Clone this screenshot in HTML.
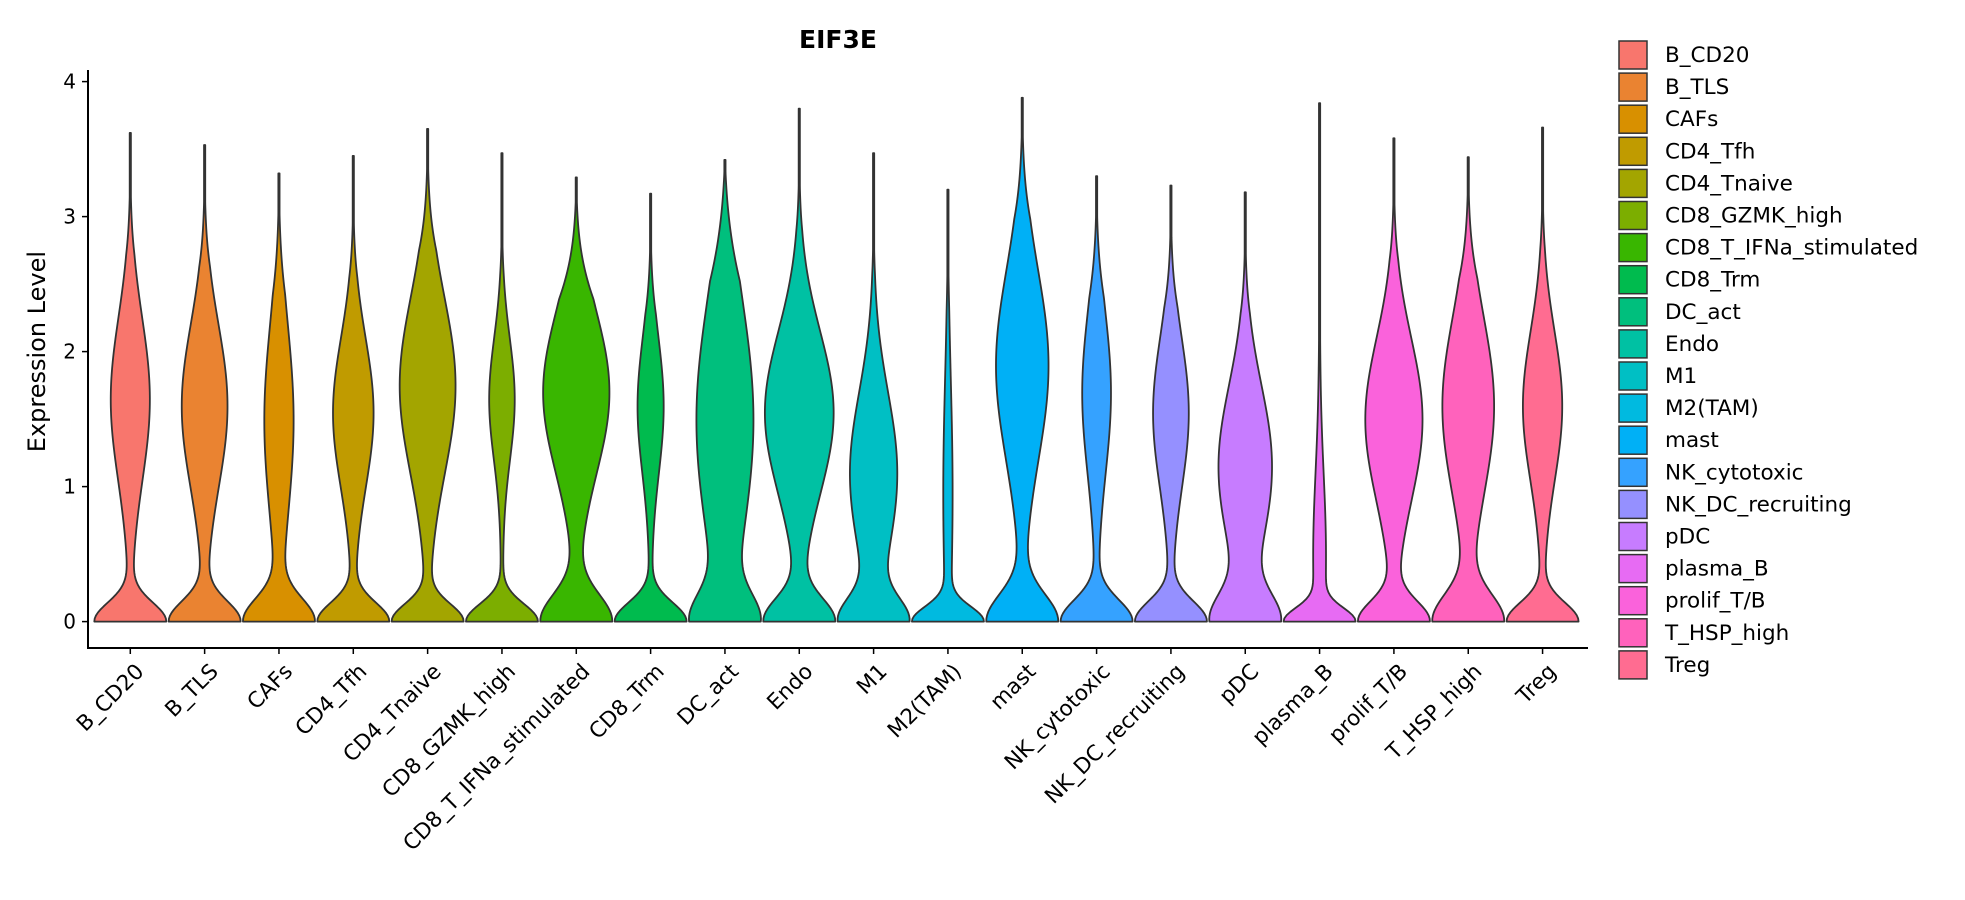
<!DOCTYPE html>
<html><head><meta charset="utf-8">
<style>
html,body{margin:0;padding:0;background:#fff;}
svg{display:block;font-family:"DejaVu Sans","Liberation Sans",sans-serif;}
</style></head>
<body>
<svg id="chart" width="1965" height="900" viewBox="0 0 1965 900">
<text x="838" y="48" text-anchor="middle" font-size="25" font-weight="bold" fill="#000">EIF3E</text>
<g id="plot"></g>
<g id="legend"></g>
</svg>
<script>
const categories = ["B_CD20","B_TLS","CAFs","CD4_Tfh","CD4_Tnaive","CD8_GZMK_high","CD8_T_IFNa_stimulated","CD8_Trm","DC_act","Endo","M1","M2(TAM)","mast","NK_cytotoxic","NK_DC_recruiting","pDC","plasma_B","prolif_T/B","T_HSP_high","Treg"];
const colors = ["#F8766D","#EA8331","#D89000","#C09B00","#A3A500","#7CAE00","#39B600","#00BB4E","#00BF7D","#00C1A3","#00BFC4","#00BAE0","#00B0F6","#35A2FF","#9590FF","#C77CFF","#E76BF3","#FA62DB","#FF62BC","#FF6C91"];
const maxValues = [3.62,3.53,3.32,3.45,3.65,3.47,3.29,3.17,3.42,3.80,3.47,3.20,3.88,3.30,3.23,3.18,3.84,3.58,3.44,3.66];
const modeCenters = [1.65,1.6,1.5,1.55,1.75,1.65,1.7,1.6,1.5,1.55,1.1,1.0,1.9,1.7,1.55,1.15,0.5,1.5,1.6,1.6];
const modeWidths = [0.55,0.65,0.42,0.57,0.8,0.35,0.95,0.36,1.0,1.0,0.75,0.12,0.75,0.4,0.5,0.85,0.18,0.83,0.75,0.55];
const modeSpreads = [0.6,0.6,0.7,0.55,0.65,0.45,0.6,0.5,0.9,0.6,0.6,0.8,0.7,0.6,0.55,0.6,0.6,0.6,0.65,0.55];
const zeroSpreads = [0.14,0.15,0.17,0.14,0.13,0.13,0.2,0.14,0.2,0.17,0.17,0.11,0.2,0.16,0.15,0.2,0.1,0.15,0.2,0.14];
const yTicks = [0,1,2,3,4];

const NS="http://www.w3.org/2000/svg";
const plot=document.getElementById('plot');
const X0=88, X1=1588, Y_AXIS=648;
const CX0=130.3, STEP=74.33, HALF=36;
function xScale(i){return CX0+i*STEP;}
function yScale(v){return 621.6 - v*135.0;}
function mk(tag,attrs,parent){const e=document.createElementNS(NS,tag);for(const k in attrs)e.setAttribute(k,attrs[k]);parent.appendChild(e);return e;}

categories.forEach((cat,i)=>{
  const top=maxValues[i], mu=modeCenters[i], mw=modeWidths[i], sd=modeSpreads[i], zs=zeroSpreads[i];
  const N=160, ws=[], ys=[];
  for(let k=0;k<=N;k++){
    const y=top*k/N;
    let w=Math.exp(-y*y/(2*zs*zs)) + mw*Math.exp(-(y-mu)*(y-mu)/(2*sd*sd)) + 0.03*(1-y/top);
    const taper=Math.min(1,(top-y)/0.9);
    w*=Math.pow(Math.max(taper,0),0.8);
    ys.push(y); ws.push(w);
  }
  const m=Math.max(...ws);
  const cx=xScale(i);
  let d="";
  for(let k=0;k<=N;k++){const px=cx+Math.max(HALF*ws[k]/m,0.6), py=yScale(ys[k]);d+=(k?"L":"M")+px.toFixed(2)+","+py.toFixed(2);}
  for(let k=N;k>=0;k--){const px=cx-Math.max(HALF*ws[k]/m,0.6), py=yScale(ys[k]);d+="L"+px.toFixed(2)+","+py.toFixed(2);}
  d+="Z";
  const p=mk('path',{d:d,fill:colors[i],stroke:"#333",'stroke-width':1.8,'stroke-linejoin':'round'},plot);
  
  
  const t=mk('line',{x1:cx,x2:cx,y1:Y_AXIS,y2:Y_AXIS+6,stroke:"#000",'stroke-width':1.5},plot);
  
  
  const lx=cx+4, ly=Y_AXIS+14;
  const lb=mk('text',{x:lx,y:ly,'text-anchor':'end','font-size':21.5,fill:'#000',transform:`rotate(-45 ${lx} ${ly})`,'dominant-baseline':'hanging'},plot);
  lb.textContent=cat;
  
  
});
const ya=mk('line',{x1:X0,x2:X0,y1:70,y2:Y_AXIS+1,stroke:"#000",'stroke-width':2},plot);


const xa=mk('line',{x1:X0-1,x2:X1,y1:Y_AXIS,y2:Y_AXIS,stroke:"#000",'stroke-width':2},plot);


yTicks.forEach(v=>{
  const y=yScale(v);
  const t=mk('line',{x1:X0-6,x2:X0,y1:y,y2:y,stroke:"#000",'stroke-width':1.5},plot);
  
  
  const l=mk('text',{x:X0-12,y:y+7,'text-anchor':'end','font-size':20,fill:'#000'},plot);
  l.textContent=v;
  
  
});
const yt=mk('text',{x:45,y:yScale(2),'text-anchor':'middle','font-size':24,fill:'#000',transform:`rotate(-90 45 ${yScale(2)})`},plot);
yt.textContent="Expression Level";



const lg=document.getElementById('legend');
categories.forEach((cat,i)=>{
  const y=55+i*32.1;
  const g=mk('g',{},lg);
  
  
  mk('rect',{x:1619,y:y-14,width:28,height:28,fill:colors[i],stroke:'#333','stroke-width':1.5},g);
  const t=mk('text',{x:1665,y:y+7,'font-size':21.5,fill:'#000'},g);
  t.textContent=cat;
});
</script>
</body></html>
